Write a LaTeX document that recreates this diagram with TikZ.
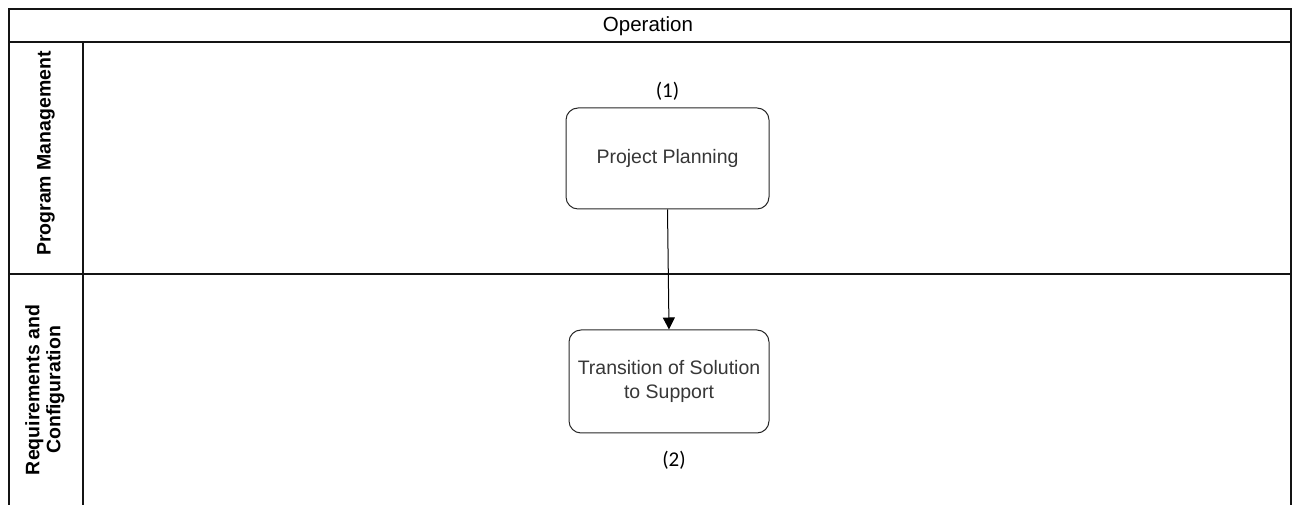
\documentclass[tikz,border=0pt]{standalone}
\usepackage{fontspec}
\setmainfont{Liberation Sans}
\newfontfamily\numfont{Carlito}
\usetikzlibrary{arrows.meta,positioning,calc}
\definecolor{LineaMarco}{RGB}{20,20,20}
\definecolor{BordeCaja}{RGB}{40,40,40}
\definecolor{TextoCaja}{RGB}{55,55,55}
\tikzset{
  lanebox/.style={draw=LineaMarco, line width=1.3pt},
  lanelabel/.style={rotate=90, align=center, font=\fontsize{19.5}{21}\selectfont\bfseries, inner sep=0pt},
  headlabel/.style={font=\fontsize{20.5}{22}\selectfont, inner sep=0pt},
  taskbox/.style={draw=BordeCaja, line width=1pt, rounded corners=12pt, fill=white,
    align=center, text=TextoCaja, minimum width=#1, font=\fontsize{19.5}{24}\selectfont, inner sep=2pt},
  taskbox/.default=201pt,
  numlabel/.style={font=\numfont\fontsize{21}{22}\selectfont, inner sep=0pt},
  flowarr/.style={-{Triangle[length=12pt, width=12pt]}, line width=1pt, black},
}
\begin{document}
\begin{tikzpicture}[x=1pt, y=1pt]
  \useasboundingbox (0,0) rectangle (1295,505);
  % ---- pool y carriles ----
  \draw[lanebox] (9,0) -- (9,496) -- (1291,496) -- (1291,0);
  \draw[lanebox] (9,463) -- (1291,463);
  \draw[lanebox] (83,0) -- (83,463);
  \draw[lanebox] (9,231) -- (1291,231);
  \node[headlabel] (head) at (648,479) {Operation};
  \node[lanelabel] (lane1) at (46,351.5) {Program Management};
  \node[lanelabel] (lane2) at (45,115) {Requirements and\\ Configuration};

  % ---- tareas ----
  \node[taskbox=203pt, minimum height=101pt] (plan) at (667.5,346.5) {Project Planning};
  \node[taskbox=200pt, minimum height=103pt] (trans) at (669,123.5) {Transition of Solution\\ to Support};
  \node[numlabel, above=7pt of plan] (n1) {(1)};
  \node[numlabel, below=17pt of trans, xshift=5pt] (n2) {(2)};
  \draw[flowarr] (plan.south) -- (trans.north);
\end{tikzpicture}
\end{document}
